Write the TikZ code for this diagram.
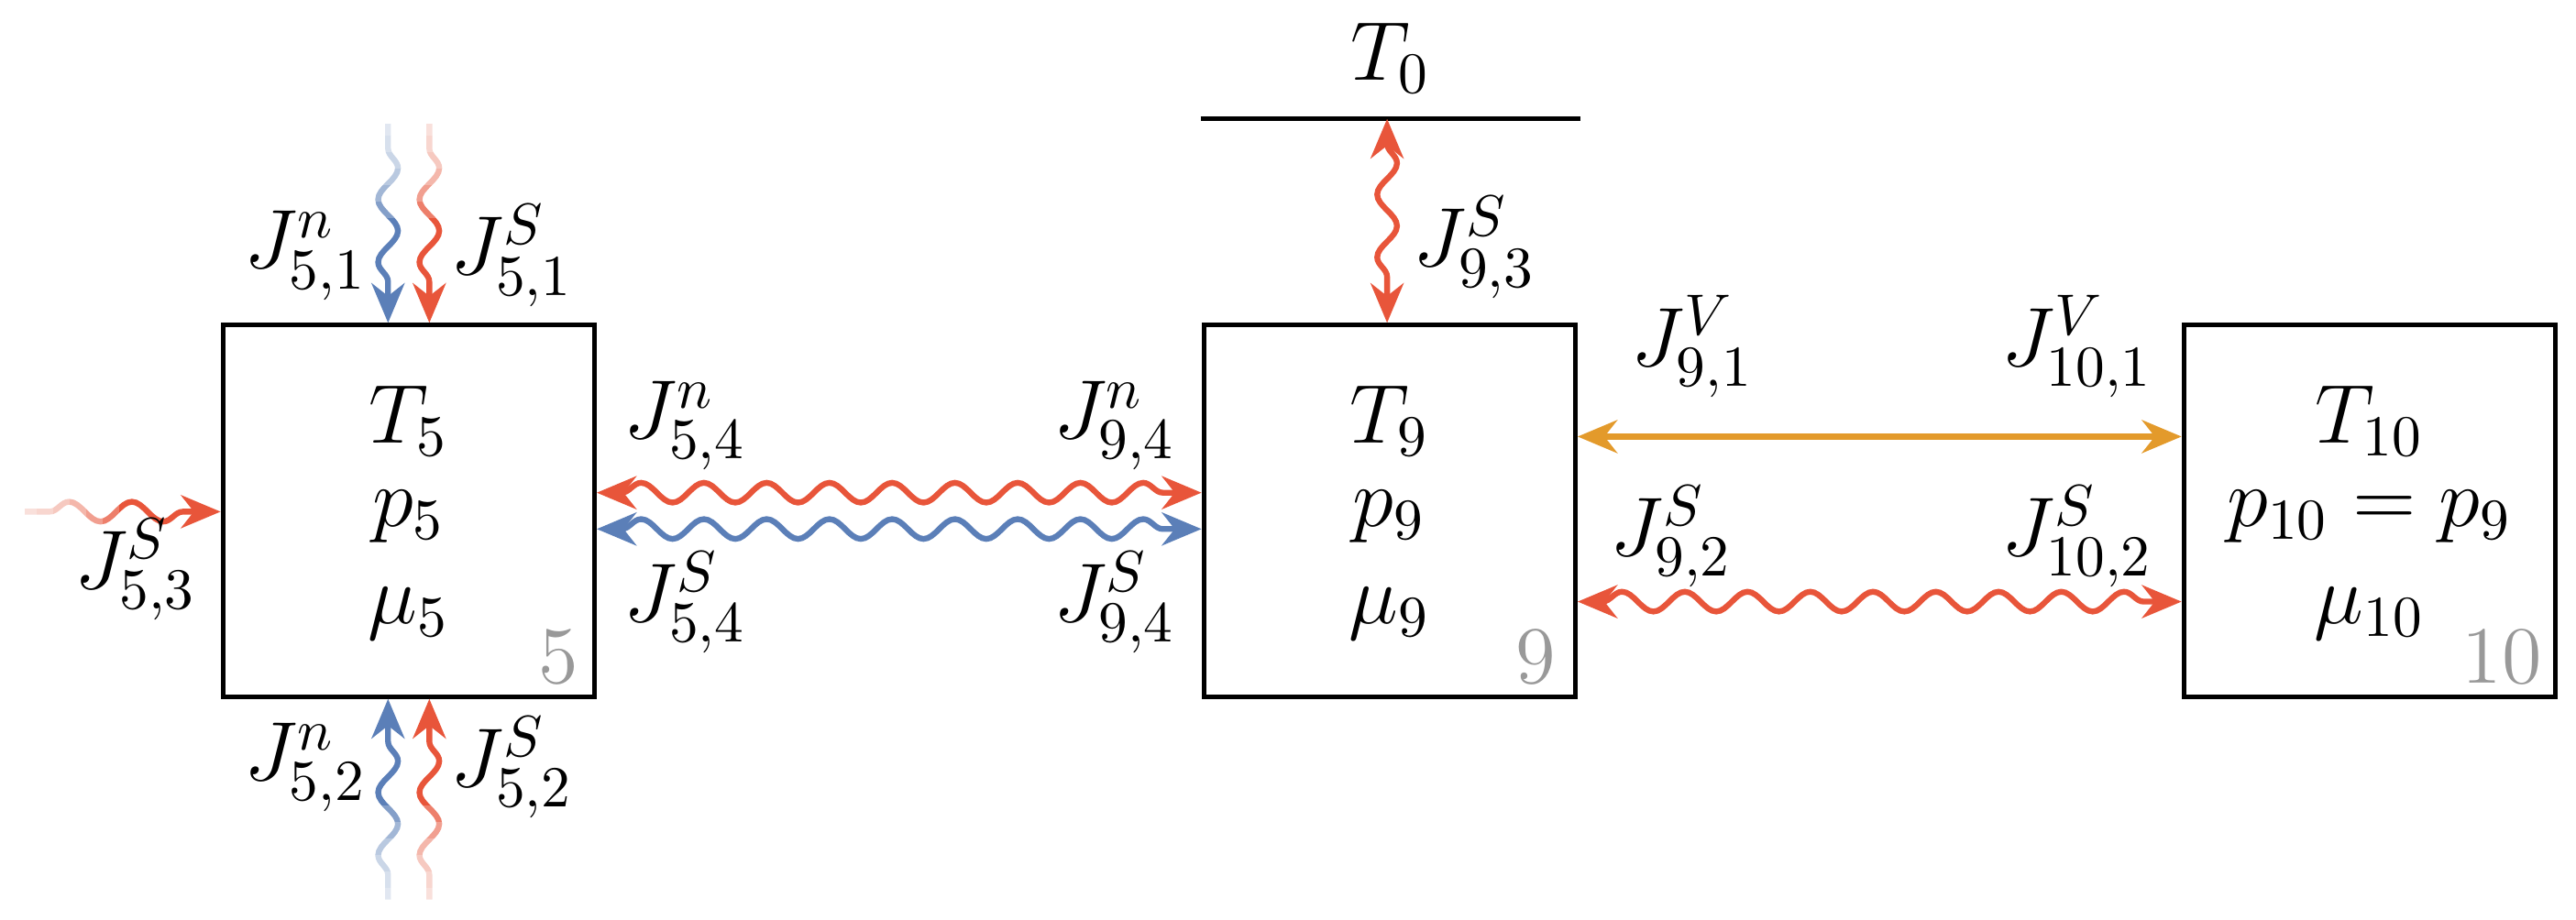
\documentclass[tikz,border=0pt]{standalone}
\usetikzlibrary{arrows.meta,decorations.pathmorphing}
\definecolor{fluxred}{HTML}{E8553A}
\definecolor{fluxblue}{HTML}{5B7FB8}
\definecolor{fluxorange}{HTML}{E39A2B}
\tikzset{
  cell/.style={draw, line width=.8pt, minimum width=2.25cm, minimum height=2.25cm},
  idx/.style={text=gray!80},
  wave/.style={line width=1pt, decorate, decoration={snake, amplitude=.6mm, segment length=3.8mm, pre length=1.5mm, post length=1.5mm}},
  flux/.style={wave, -{Stealth[length=2.4mm,width=2mm]}},
  flux2/.style={wave, {Stealth[length=2.4mm,width=2mm]}-{Stealth[length=2.4mm,width=2mm]}},
}
\begin{document}
\begin{tikzpicture}
\useasboundingbox (0,0) rectangle (15.6,5.57);
\fontsize{14}{17}\selectfont
% cells
\node[cell] (c5) at (2.475,2.475) {};
\node[cell] (c9) at (8.415,2.475) {};
\node[cell] (c10) at (14.35,2.475) {};
\node (t5) at (2.475,3.02) {$T_5$};
\node (p5) at (2.475,2.44) {$p_5$};
\node (m5) at (2.475,1.85) {$\mu_5$};
\node[idx] (n5) at (3.38,1.59) {5};
\node (t9) at (8.415,3.02) {$T_9$};
\node (p9) at (8.415,2.44) {$p_9$};
\node (m9) at (8.415,1.85) {$\mu_9$};
\node[idx] (n9) at (9.30,1.59) {9};
\node (t10) at (14.35,3.02) {$T_{10}$};
\node (p10) at (14.35,2.44) {$p_{10}=p_9$};
\node (m10) at (14.35,1.85) {$\mu_{10}$};
\node[idx] (n10) at (15.15,1.59) {10};
% reservoir
\node (t0) at (8.42,5.22) {$T_0$};
\coordinate (r0a) at (7.27,4.85);
\coordinate (r0b) at (9.57,4.85);
\draw[line width=.8pt] (r0a) -- (r0b);
% free ends
\coordinate (tn) at (2.35,4.82);
\coordinate (ts) at (2.60,4.82);
\coordinate (bn) at (2.35,0.12);
\coordinate (bs) at (2.60,0.12);
\coordinate (ls) at (0.15,2.47);
\coordinate (r0) at (8.40,4.85);
% fluxes of cell 5
\draw[flux, fluxblue] (tn) -- (tn |- c5.north);
\draw[flux, fluxred] (ts) -- (ts |- c5.north);
\draw[flux, fluxblue] (bn) -- (bn |- c5.south);
\draw[flux, fluxred] (bs) -- (bs |- c5.south);
\draw[flux, fluxred] (ls) -- (ls -| c5.west);
\foreach \k in {1,...,6}{
  \fill[white, opacity=.25] (2.2,5.0) rectangle (2.75,{4.85-\k*0.1});
  \fill[white, opacity=.25] (2.2,0) rectangle (2.75,{0.09+\k*0.1});
  \fill[white, opacity=.25] (0,2.32) rectangle ({0.12+\k*0.1},2.62);
}
\node (j51n) at (1.85,4.02) {$J^n_{5,1}$};
\node (j51s) at (3.10,4.02) {$J^S_{5,1}$};
\node (j52n) at (1.85,0.92) {$J^n_{5,2}$};
\node (j52s) at (3.10,0.92) {$J^S_{5,2}$};
\node (j53s) at (0.82,2.12) {$J^S_{5,3}$};
% between 5 and 9
\draw[flux2, fluxred] ([yshift=1.1mm]c5.east) -- ([yshift=1.1mm]c9.west);
\draw[flux2, fluxblue] ([yshift=-1.1mm]c5.east) -- ([yshift=-1.1mm]c9.west);
\node (j54n) at (4.15,2.99) {$J^n_{5,4}$};
\node (j94n) at (6.75,2.99) {$J^n_{9,4}$};
\node (j54s) at (4.15,1.92) {$J^S_{5,4}$};
\node (j94s) at (6.75,1.92) {$J^S_{9,4}$};
% reservoir to 9
\draw[flux2, fluxred] (r0) -- (r0 |- c9.north);
\node (j93s) at (8.93,4.07) {$J^S_{9,3}$};
% between 9 and 10
\draw[line width=1pt, fluxorange, {Stealth[length=2.4mm,width=2mm]}-{Stealth[length=2.4mm,width=2mm]}] ([yshift=4.5mm]c9.east) -- ([yshift=4.5mm]c10.west);
\draw[flux2, fluxred] ([yshift=-5.5mm]c9.east) -- ([yshift=-5.5mm]c10.west);
\node (j91v) at (10.25,3.47) {$J^V_{9,1}$};
\node (j101v) at (12.58,3.47) {$J^V_{10,1}$};
\node (j92s) at (10.12,2.32) {$J^S_{9,2}$};
\node (j102s) at (12.58,2.32) {$J^S_{10,2}$};
\end{tikzpicture}
\end{document}
